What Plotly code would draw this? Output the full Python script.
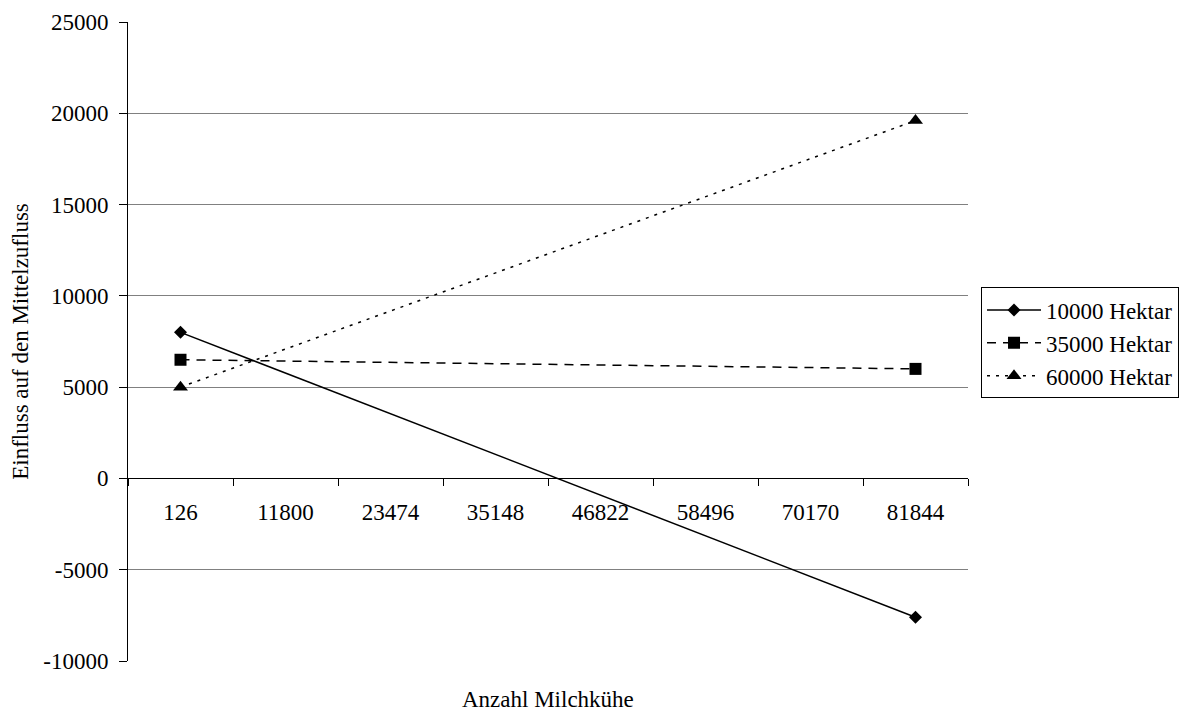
import plotly.graph_objects as go

categories = ["126", "11800", "23474", "35148", "46822", "58496", "70170", "81844"]
series_names = ["10000 Hektar", "35000 Hektar", "60000 Hektar"]
vals_10000 = [8000, None, None, None, None, None, None, -7600]
vals_35000 = [6500, None, None, None, None, None, None, 6000]
vals_60000 = [5000, None, None, None, None, None, None, 19600]
y_ticks = [-10000, -5000, 0, 5000, 10000, 15000, 20000, 25000]
y_ticklabels = ["-10000", "-5000", "0", "5000", "10000", "15000", "20000", "25000"]

FONT = "Liberation Serif"
FS = 23

styles = [
    dict(dash="solid", symbol="diamond", size=10),
    dict(dash="9px,7px", symbol="square", size=12),
    dict(dash="3px,6px", symbol="triangle-up", size=13),
]

fig = go.Figure()
for name, vals, st in zip(series_names, [vals_10000, vals_35000, vals_60000], styles):
    fig.add_trace(go.Scatter(
        x=categories, y=vals, name=name, mode="lines+markers",
        connectgaps=True,
        line=dict(color="black", width=1.5, dash=st["dash"]),
        marker=dict(color="black", symbol=st["symbol"], size=st["size"]),
    ))

ymin, ymax = y_ticks[0], y_ticks[-1]
fig.update_layout(
    width=1184, height=711,
    margin=dict(l=128, r=216, t=22, b=50, autoexpand=False),
    paper_bgcolor="white", plot_bgcolor="white",
    font=dict(family=FONT, size=FS, color="black"),
    showlegend=True,
    legend=dict(
        x=1.0155, xanchor="left", y=0.4977, yanchor="middle",
        bordercolor="black", borderwidth=1, font=dict(size=FS),
        tracegroupgap=0, itemwidth=54, bgcolor="white",
    ),
    xaxis=dict(
        type="category", categoryorder="array", categoryarray=categories,
        range=[-0.5, len(categories) - 0.5],
        anchor="free", position=(0 - ymin) / (ymax - ymin),
        showline=True, linecolor="black", linewidth=1,
        ticks="outside", tickson="boundaries", ticklen=7, tickcolor="black",
        showgrid=False, zeroline=False,
        tickfont=dict(size=FS), ticklabelstandoff=13,
    ),
    yaxis=dict(
        range=[ymin, ymax], tickvals=y_ticks, ticktext=y_ticklabels,
        showgrid=True, gridcolor="#808080", gridwidth=1,
        zeroline=False, showline=True, linecolor="black", linewidth=1,
        ticks="outside", ticklen=8, tickcolor="black",
        tickfont=dict(size=FS), ticklabelstandoff=6,
        title=dict(text="Einfluss auf den Mittelzufluss", font=dict(size=FS), standoff=8),
    ),
    annotations=[dict(
        text="Anzahl Milchkühe", xref="paper", yref="paper",
        x=0.5, y=-0.061, xanchor="center", yanchor="middle",
        showarrow=False, font=dict(size=FS),
    )],
)

fig.write_html("out.html", config={"displayModeBar": False},
               post_script="document.body.style.margin='0';document.body.style.overflow='hidden';")
